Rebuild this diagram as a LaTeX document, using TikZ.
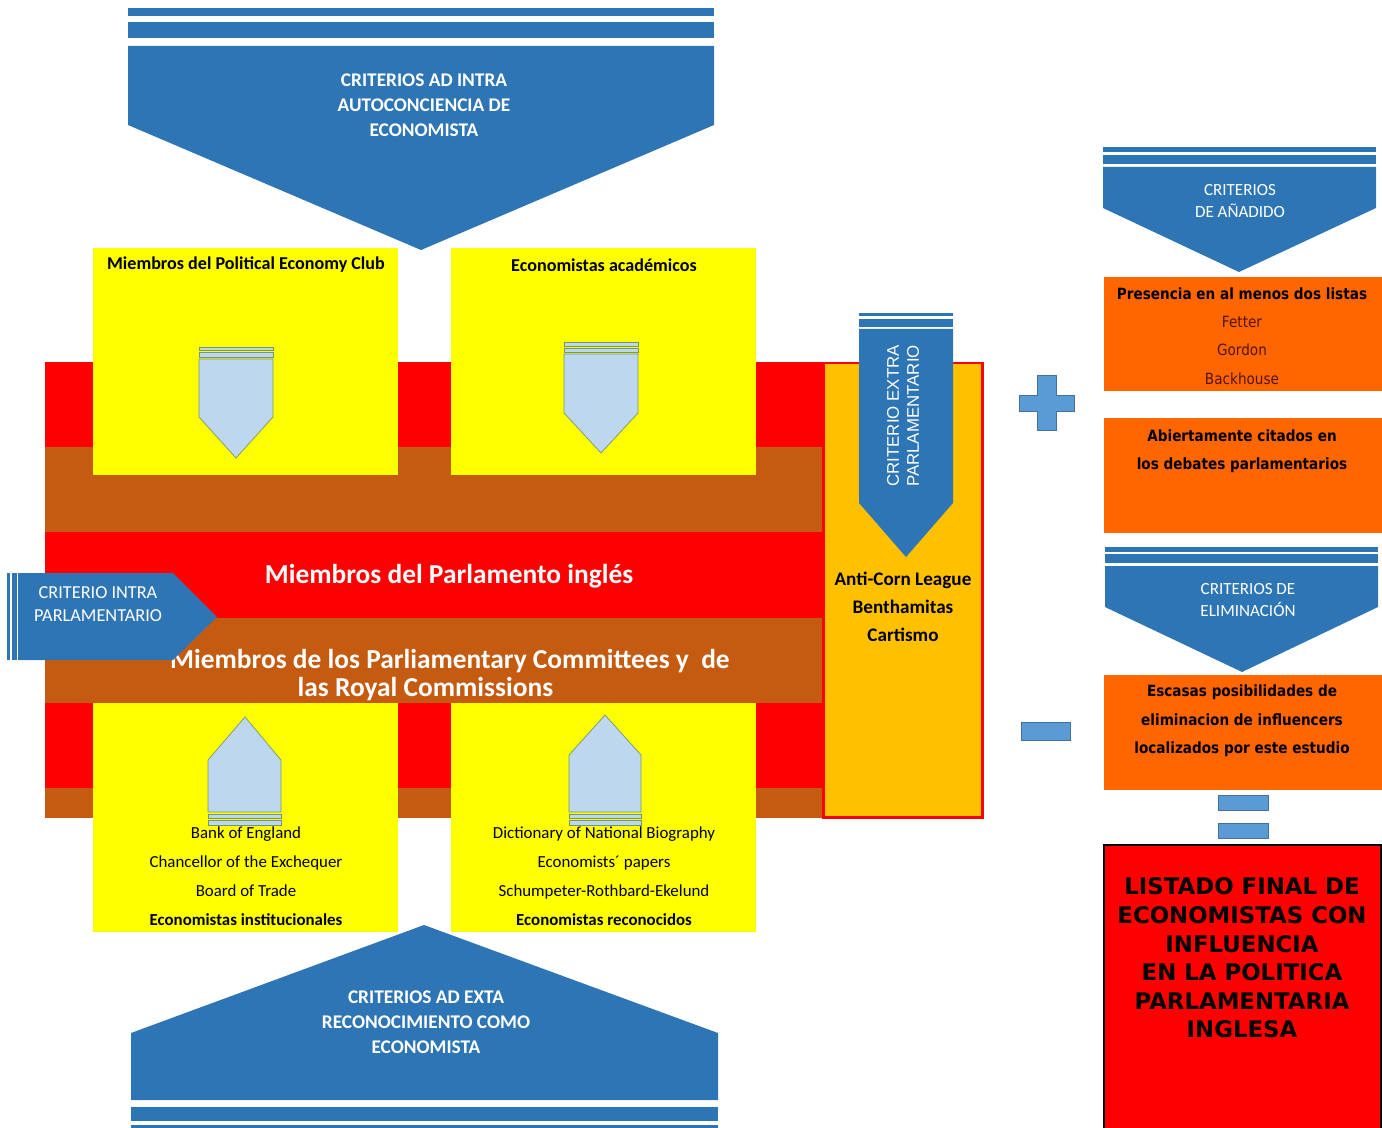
\documentclass[tikz,border=0pt]{standalone}
\usepackage{fontspec}
\setmainfont{Carlito}
\newfontfamily\arialfont{Liberation Sans}
\newfontfamily\tahomafont{DejaVu Sans}[FakeStretch=0.88]
\newfontfamily\verdanafont{DejaVu Sans}
\usetikzlibrary{positioning}
\definecolor{critblue}{RGB}{46,117,182}
\definecolor{signblue}{RGB}{91,155,213}
\definecolor{signedge}{RGB}{65,113,156}
\definecolor{paleblue}{RGB}{189,215,238}
\definecolor{paleedge}{RGB}{120,150,110}
\definecolor{parlred}{RGB}{255,0,0}
\definecolor{parlbrown}{RGB}{197,90,17}
\definecolor{boxyellow}{RGB}{255,255,0}
\definecolor{amber}{RGB}{255,192,0}
\definecolor{listorange}{RGB}{255,102,0}
\definecolor{listtext}{RGB}{80,20,0}

\begin{document}
\begin{tikzpicture}[x=0.02cm, y=-0.02cm,
    chev/.style={fill=critblue},
    pale/.style={fill=paleblue, draw=paleedge, line width=0.4pt},
    sign/.style={fill=signblue, draw=signedge, line width=0.5pt},
    yellowbox/.style={fill=boxyellow},
    listbox/.style={fill=listorange},
    crit/.style={inner sep=0, align=center, text=white, font=\fontsize{11}{14.2}\selectfont\bfseries},
    smallcrit/.style={inner sep=0, align=center, text=white, font=\fontsize{9.7}{12.5}\selectfont},
    boxtitle/.style={inner sep=0, font=\fontsize{10.3}{12}\selectfont\bfseries},
    boxlist/.style={inner sep=0, align=center, font=\fontsize{9.6}{16.4}\selectfont},
    orangetext/.style={inner sep=0, align=center, font=\tahomafont\fontsize{8.8}{16.1}\selectfont\bfseries}
]
\useasboundingbox (0,0) rectangle (1382,1128);

% Parliament bands
\fill[parlred] (45,362) rectangle (822,818);
\fill[parlbrown] (45,447) rectangle (822,532);
\fill[parlbrown] (45,618) rectangle (822,703);
\fill[parlbrown] (45,788) rectangle (822,818);
\draw[parlred, line width=1.7pt, fill=amber] (823,363) rectangle (982,817);

% Yellow boxes
\fill[yellowbox] (93,248) rectangle (398,475);
\fill[yellowbox] (451,248) rectangle (756,475);
\fill[yellowbox] (93,703) rectangle (398,932);
\fill[yellowbox] (451,703) rectangle (756,932);

% Small arrows inside the boxes
\filldraw[pale] (199,347) rectangle (273,350);
\filldraw[pale] (199,352) rectangle (273,357);
\filldraw[pale] (199,359) -- (273,359) -- (273,417) -- (236,458) -- (199,417) -- cycle;
\filldraw[pale] (564,342) rectangle (638,346);
\filldraw[pale] (564,348) rectangle (638,352);
\filldraw[pale] (564,354) -- (638,354) -- (638,413) -- (601,453) -- (564,413) -- cycle;
\filldraw[pale] (208,812) -- (208,760) -- (245,717) -- (281,760) -- (281,812) -- cycle;
\filldraw[pale] (208,814) rectangle (281,818);
\filldraw[pale] (208,820) rectangle (281,825);
\filldraw[pale] (569,812) -- (569,755) -- (605,715) -- (641,755) -- (641,812) -- cycle;
\filldraw[pale] (569,814) rectangle (641,818);
\filldraw[pale] (569,820) rectangle (641,825);

% Criteria chevrons
\fill[chev] (128,8) rectangle (714,16);
\fill[chev] (128,22) rectangle (714,38);
\fill[chev] (128,46) -- (714,46) -- (714,125) -- (421,250) -- (128,125) -- cycle;
\fill[chev] (131,1107) rectangle (718,1121);
\fill[chev] (131,1125) rectangle (718,1132);
\fill[chev] (131,1100) -- (131,1033) -- (424,925) -- (718,1033) -- (718,1100) -- cycle;
\fill[chev] (859,313) rectangle (953,316);
\fill[chev] (859,319) rectangle (953,327);
\fill[chev] (859,329) -- (953,329) -- (953,503) -- (906,557) -- (859,503) -- cycle;
\fill[chev] (1103,147) rectangle (1376,152);
\fill[chev] (1103,155) rectangle (1376,164);
\fill[chev] (1103,167) -- (1376,167) -- (1376,208) -- (1239,272) -- (1103,208) -- cycle;
\fill[chev] (1105,547) rectangle (1378,552);
\fill[chev] (1105,554) rectangle (1378,563);
\fill[chev] (1105,566) -- (1378,566) -- (1378,607) -- (1242,672) -- (1105,607) -- cycle;

% Texts
\node[crit] (adintra) at (424,105) {CRITERIOS AD INTRA\\AUTOCONCIENCIA DE\\ECONOMISTA};
\node[crit] (adextra) at (426,1022) {CRITERIOS AD EXTA\\RECONOCIMIENTO COMO\\ECONOMISTA};
\node[boxtitle] (club) at (246,265) {Miembros del Political Economy Club};
\node[boxtitle] (academ) at (604,265) {Economistas académicos};
\node[inner sep=0, text=white, font=\fontsize{15.6}{16}\selectfont\bfseries] (parl) at (449,576) {Miembros del Parlamento inglés};
\node[inner sep=0, align=center, text=white, font=\fontsize{15.6}{16}\selectfont\bfseries] (comm) at (450,675)
    {Miembros de los Parliamentary Committees y \ de\\las Royal Commissions\hspace*{28pt}};
\node[boxlist] (inst) at (246,876) {Bank of England\\Chancellor of the Exchequer\\Board of Trade\\\textbf{Economistas institucionales}};
\node[boxlist] (recon) at (604,876) {Dictionary of National Biography\\Economists\textasciiacute\ papers\\Schumpeter-Rothbard-Ekelund\\\textbf{Economistas reconocidos}};
\node[inner sep=0, align=center, font=\fontsize{10.9}{16}\selectfont\bfseries] (movs) at (903,607) {Anti-Corn League\\Benthamitas\\Cartismo};
\node[inner sep=0, align=center, text=white, rotate=90, font=\arialfont\fontsize{9.6}{11.4}\selectfont] (extra) at (903,416) {CRITERIO EXTRA\\PARLAMENTARIO};

% Intra-parliamentary arrow
\fill[chev] (7,573) rectangle (10,660);
\fill[chev] (12,573) rectangle (17,660);
\fill[chev] (18,573) -- (173,573) -- (217,617) -- (173,660) -- (18,660) -- cycle;
\node[smallcrit, font=\fontsize{10.4}{13.1}\selectfont] (intra) at (98,604) {CRITERIO INTRA\\PARLAMENTARIO};

% Right column
\fill[listbox] (1104,277) rectangle (1382,391);
\fill[listbox] (1104,418) rectangle (1382,533);
\fill[listbox] (1104,675) rectangle (1382,790);
\node[smallcrit] (anadido) at (1240,201) {CRITERIOS\\DE AÑADIDO};
\node[smallcrit] (elimin) at (1248,600) {CRITERIOS DE\\ELIMINACIÓN};
\node[orangetext] (listas) at (1242,336) {Presencia en al menos dos listas\\\mdseries\color{listtext}Fetter\\\mdseries\color{listtext}Gordon\\\mdseries\color{listtext}Backhouse};
\node[orangetext] (citados) at (1242,451) {Abiertamente citados en\\los debates parlamentarios};
\node[orangetext] (escasas) at (1242,721) {Escasas posibilidades de\\eliminacion de influencers\\localizados por este estudio};

% Signs
\filldraw[sign] (1019,395) -- (1037,395) -- (1037,375) -- (1056,375) -- (1056,395) -- (1074,395)
    -- (1074,411) -- (1056,411) -- (1056,430) -- (1037,430) -- (1037,411) -- (1019,411) -- cycle;
\filldraw[sign] (1021,722) rectangle (1070,740);
\filldraw[sign] (1218,795) rectangle (1268,810);
\filldraw[sign] (1218,823) rectangle (1268,838);

% Final list
\draw[black, line width=1.2pt, fill=parlred] (1104,845) rectangle (1381,1132);
\node[inner sep=0, align=center, font=\verdanafont\fontsize{13}{16.3}\selectfont\bfseries] (final) at (1242,958)
    {LISTADO FINAL DE\\ECONOMISTAS CON\\INFLUENCIA\\EN LA POLITICA\\PARLAMENTARIA\\INGLESA};

\end{tikzpicture}
\end{document}
